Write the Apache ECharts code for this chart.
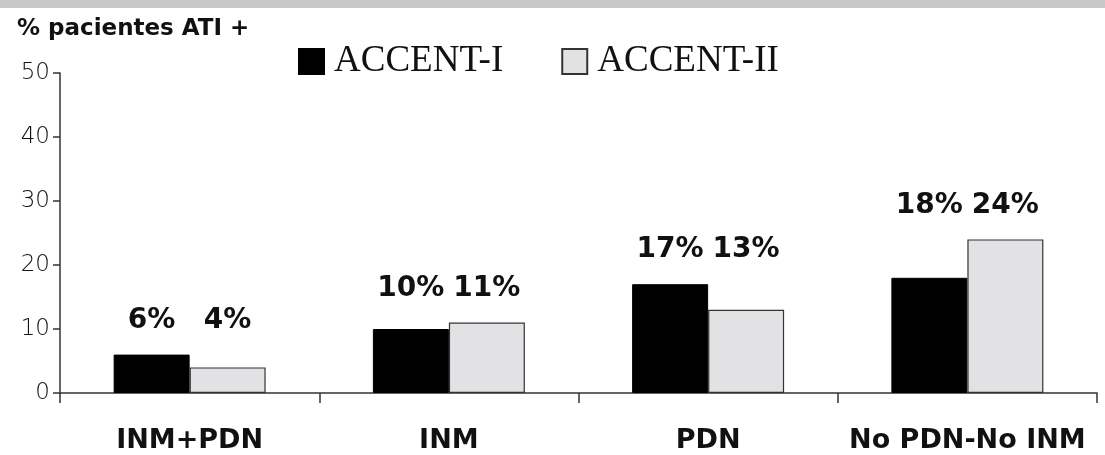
<!DOCTYPE html>
<html>
<head>
<meta charset="utf-8">
<script src="https://cdn.jsdelivr.net/npm/echarts@6/dist/echarts.min.js"></script>
<style>
  html, body { margin: 0; padding: 0; background: #fff; }
  #chart { width: 1105px; height: 455px; }
</style>
</head>
<body>
<div id="chart"></div>
<script>
// datos
var categorias = ['INM+PDN', 'INM', 'PDN', 'No PDN-No INM'];
var accent1 = [6, 10, 17, 18];
var accent2 = [4, 11, 13, 24];
var yTicks = [0, 10, 20, 30, 40, 50];

var myChart = echarts.init(document.getElementById('chart'));

var gridTop = 73, gridBottom = 62;
var yMax = yTicks[yTicks.length - 1];
var pxPorUnidad = (455 - gridTop - gridBottom) / yMax;

// las etiquetas de cada grupo van a la misma altura (encima de la barra mas alta)
function conEtiqueta(vals, otros) {
    return vals.map(function (v, i) {
        var m = Math.max(v, otros[i]);
        return {
            value: v,
            label: { offset: [0, -(m - v) * pxPorUnidad] }
        };
    });
}

var etiqueta = {
    show: true,
    position: 'top',
    distance: 20,
    formatter: '{c}%',
    fontFamily: 'DejaVu Sans',
    fontWeight: 'bold',
    fontSize: 28,
    color: '#111'
};

option = {
    animation: false,
    backgroundColor: '#fff',
    graphic: [
        { type: 'rect', left: 0, top: 0, shape: { width: 1105, height: 8 }, style: { fill: '#c8c8c8' } }
    ],
    title: {
        text: '% pacientes ATI +',
        left: 12,
        top: 13,
        textStyle: { fontFamily: 'DejaVu Sans', fontWeight: 'bold', fontSize: 23, color: '#111' }
    },
    legend: {
        left: 293,
        top: 38,
        icon: 'rect',
        itemWidth: 25,
        itemHeight: 25,
        itemGap: 58,
        textStyle: { fontFamily: 'Liberation Serif', fontSize: 37, color: '#111', padding: [4, 0, 0, 5] },
        data: ['ACCENT-I', 'ACCENT-II']
    },
    grid: { left: 60, right: 8, top: gridTop, bottom: gridBottom },
    xAxis: {
        type: 'category',
        data: categorias,
        axisLine: { lineStyle: { color: '#333', width: 1.5 } },
        axisTick: { show: true, interval: 0, length: 10, lineStyle: { color: '#333', width: 1.5 } },
        axisLabel: {
            interval: 0,
            margin: 34,
            fontFamily: 'DejaVu Sans',
            fontWeight: 'bold',
            fontSize: 27,
            color: '#111'
        }
    },
    yAxis: {
        type: 'value',
        min: 0,
        max: yMax,
        interval: 10,
        splitLine: { show: false },
        axisLine: { show: true, lineStyle: { color: '#333', width: 1.5 } },
        axisTick: { show: true, length: 7, lineStyle: { color: '#333', width: 1.5 } },
        axisLabel: {
            margin: 10,
            fontFamily: 'DejaVu Sans',
            fontWeight: 200,
            fontSize: 23,
            color: '#111'
        }
    },
    series: [
        {
            name: 'ACCENT-I',
            type: 'bar',
            data: conEtiqueta(accent1, accent2),
            barWidth: 76,
            barGap: '0%',
            itemStyle: { color: '#000', borderColor: '#000', borderWidth: 1 },
            label: etiqueta
        },
        {
            name: 'ACCENT-II',
            type: 'bar',
            data: conEtiqueta(accent2, accent1),
            barWidth: 76,
            barGap: '0%',
            itemStyle: { color: '#e2e2e4', borderColor: '#333', borderWidth: 1.2 },
            label: etiqueta
        }
    ]
};

myChart.setOption(option);
</script>
</body>
</html>
